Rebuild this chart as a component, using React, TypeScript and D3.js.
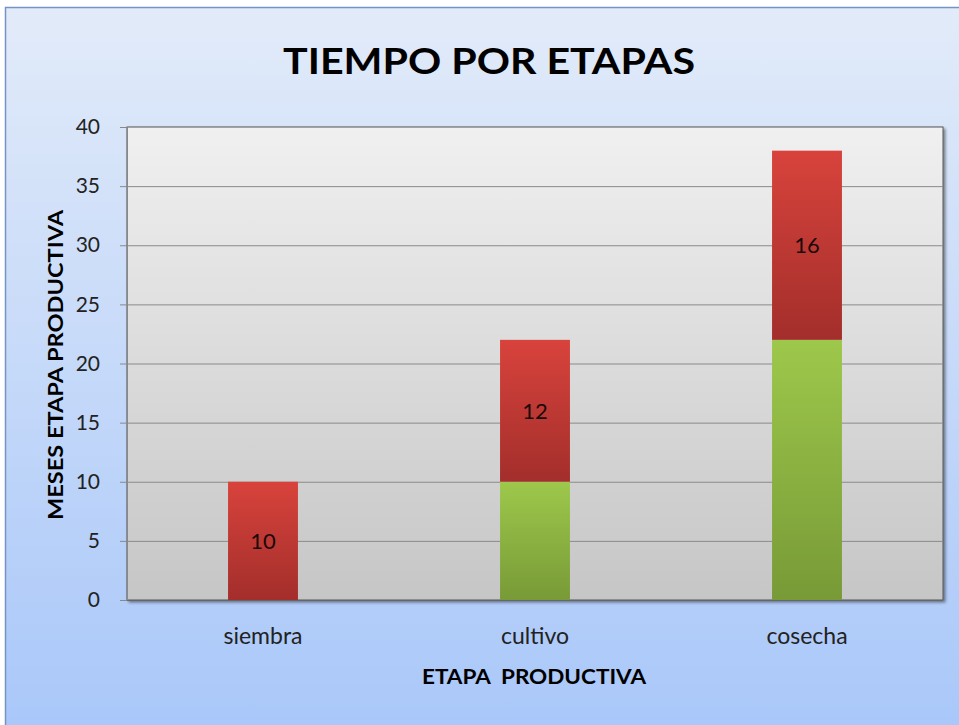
import React, { useEffect, useRef } from "react";
import * as d3 from "d3";

// datos
const etapas = ["siembra", "cultivo", "cosecha"];
const inicio = [0, 10, 22]; // parte verde
const duracion = [10, 12, 16]; // parte roja
const yTicks = [0, 5, 10, 15, 20, 25, 30, 35, 40];

const App = () => {
  const ref = useRef<SVGSVGElement>(null);

  useEffect(() => {
    makeGraph();
  }, []);

  const makeGraph = () => {
    const width = 959;
    const height = 725;
    const margin = { top: 127, left: 127, bottom: 125, right: 16 };
    const font = "Lato, 'Open Sans', sans-serif";

    const svg = d3.select(ref.current);
    svg.selectAll("*").remove();

    const defs = svg.append("defs");
    const grad = (id: string, c1: string, c2: string) => {
      const g = defs
        .append("linearGradient")
        .attr("id", id)
        .attr("x1", 0)
        .attr("y1", 0)
        .attr("x2", 0)
        .attr("y2", 1);
      g.append("stop").attr("offset", "0%").attr("stop-color", c1);
      g.append("stop").attr("offset", "100%").attr("stop-color", c2);
    };
    grad("bgOuter", "#e2ebf9", "#a7c6f9");
    grad("bgPlot", "#f0f0f0", "#c6c6c6");
    grad("rojo", "#d8433c", "#a32e2b");
    grad("verde", "#9dc84b", "#789a37");

    const filter = defs
      .append("filter")
      .attr("id", "sombra")
      .attr("x", "-5%")
      .attr("y", "-5%")
      .attr("width", "110%")
      .attr("height", "110%");
    filter
      .append("feDropShadow")
      .attr("dx", 2)
      .attr("dy", 2)
      .attr("stdDeviation", 1.5)
      .attr("flood-color", "#000")
      .attr("flood-opacity", 0.45);

    // fondo
    svg
      .append("rect")
      .attr("x", 5.5)
      .attr("y", 7.5)
      .attr("width", width + 20)
      .attr("height", height + 20)
      .attr("fill", "url(#bgOuter)")
      .attr("stroke", "#7594c4")
      .attr("stroke-width", 1.5);

    // titulo
    svg
      .append("text")
      .text("TIEMPO POR ETAPAS")
      .attr("x", 489)
      .attr("y", 74)
      .attr("text-anchor", "middle")
      .attr("font-family", font)
      .attr("font-weight", "bold")
      .attr("font-size", 36)
      .attr("textLength", 412)
      .attr("lengthAdjust", "spacingAndGlyphs")
      .attr("fill", "#000");

    const x = d3
      .scaleBand()
      .domain(etapas)
      .range([margin.left, width - margin.right])
      .paddingInner(0.743)
      .paddingOuter(0.3715);

    const y = d3
      .scaleLinear()
      .domain([0, 40])
      .range([height - margin.bottom, margin.top]);

    const x0 = margin.left;
    const x1 = width - margin.right;

    // area de trazado
    svg
      .append("rect")
      .attr("x", x0)
      .attr("y", y(40))
      .attr("width", x1 - x0)
      .attr("height", y(0) - y(40))
      .attr("fill", "url(#bgPlot)")
      .attr("stroke", "#555")
      .attr("stroke-width", 1)
      .attr("filter", "url(#sombra)");

    // grid
    svg
      .append("g")
      .selectAll("line")
      .data(yTicks.filter((d) => d > 0 && d < 40))
      .enter()
      .append("line")
      .attr("x1", x0)
      .attr("x2", x1)
      .attr("y1", (d) => y(d) + 0.5)
      .attr("y2", (d) => y(d) + 0.5)
      .attr("stroke", "#8a8a8a")
      .attr("stroke-width", 1);

    // eje y
    const yAxis = (g: any) =>
      g
        .attr("transform", `translate(${x0}, 0)`)
        .call(d3.axisLeft(y).tickValues(yTicks).tickSize(7).tickPadding(20))
        .call((g: any) => g.select(".domain").attr("stroke", "#888"))
        .call((g: any) => g.selectAll(".tick line").attr("stroke", "#888"))
        .call((g: any) =>
          g
            .selectAll(".tick text")
            .attr("font-family", font)
            .attr("font-size", 21)
            .attr("fill", "#222")
        );
    svg.append("g").call(yAxis);

    // barras
    const bw = x.bandwidth();
    const g = svg.append("g");
    g.selectAll("rect.verde")
      .data(etapas)
      .enter()
      .append("rect")
      .attr("class", "verde")
      .attr("x", (d) => x(d) as number)
      .attr("width", bw)
      .attr("y", (d, i) => y(inicio[i]))
      .attr("height", (d, i) => y(0) - y(inicio[i]))
      .attr("fill", "url(#verde)");

    g.selectAll("rect.rojo")
      .data(etapas)
      .enter()
      .append("rect")
      .attr("class", "rojo")
      .attr("x", (d) => x(d) as number)
      .attr("width", bw)
      .attr("y", (d, i) => y(inicio[i] + duracion[i]))
      .attr("height", (d, i) => y(inicio[i]) - y(inicio[i] + duracion[i]))
      .attr("fill", "url(#rojo)");

    g.selectAll("text")
      .data(etapas)
      .enter()
      .append("text")
      .text((d, i) => duracion[i])
      .attr("x", (d) => (x(d) as number) + bw / 2)
      .attr("y", (d, i) => y(inicio[i] + duracion[i] / 2))
      .attr("dy", "0.35em")
      .attr("text-anchor", "middle")
      .attr("font-family", font)
      .attr("font-size", 22)
      .attr("fill", "#1a0a0a");

    // eje x
    svg
      .append("line")
      .attr("x1", x0)
      .attr("x2", x1)
      .attr("y1", y(0) + 0.5)
      .attr("y2", y(0) + 0.5)
      .attr("stroke", "#666");

    svg
      .append("g")
      .selectAll("text")
      .data(etapas)
      .enter()
      .append("text")
      .text((d) => d)
      .attr("x", (d) => (x(d) as number) + bw / 2)
      .attr("y", y(0) + 44)
      .attr("text-anchor", "middle")
      .attr("font-family", font)
      .attr("font-size", 23)
      .attr("fill", "#222");

    svg
      .append("text")
      .text("ETAPA\u00a0\u00a0PRODUCTIVA")
      .attr("x", 534)
      .attr("y", 684)
      .attr("text-anchor", "middle")
      .attr("font-family", font)
      .attr("font-weight", "bold")
      .attr("font-size", 21)
      .attr("textLength", 224)
      .attr("lengthAdjust", "spacingAndGlyphs")
      .attr("fill", "#000");

    svg
      .append("text")
      .text("MESES ETAPA PRODUCTIVA")
      .attr("transform", `translate(63, 365) rotate(-90)`)
      .attr("text-anchor", "middle")
      .attr("font-family", font)
      .attr("font-weight", "bold")
      .attr("font-size", 21)
      .attr("textLength", 310)
      .attr("lengthAdjust", "spacingAndGlyphs")
      .attr("fill", "#000");
  };

  return (
    <svg
      ref={ref}
      width={959}
      height={725}
      style={{ position: "absolute", left: 0, top: 0 }}
    />
  );
};
export default App;
